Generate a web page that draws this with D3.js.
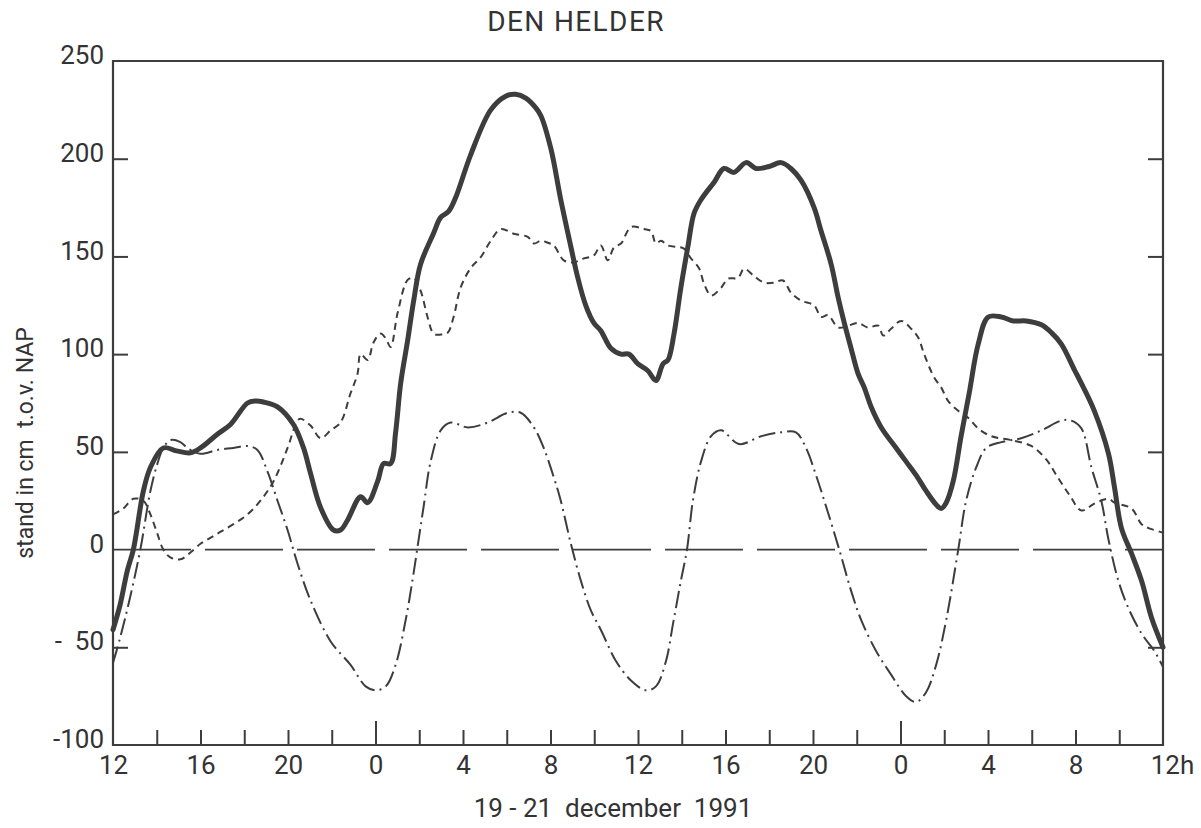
<!DOCTYPE html>
<html>
<head>
<meta charset="utf-8">
<script src="https://cdn.jsdelivr.net/npm/d3@7"></script>
<style>
  html, body { margin: 0; padding: 0; background: #fff; }
  svg { display: block; }
  text { font-family: Roboto, "DejaVu Sans", sans-serif; fill: #333; }
</style>
</head>
<body>
<svg id="chart" width="1201" height="828"></svg>
<script>
// hours since 12h, 19 december 1991
const observedHours = [0,0.33,0.65,0.93,1.39,1.71,2.30,2.90,3.54,4.00,4.77,5.37,6.15,6.51,6.88,7.52,8.25,8.71,9.03,9.49,10.08,10.40,10.72,11.32,11.64,12.10,12.37,12.69,12.92,13.15,13.47,13.74,14.06,14.66,14.98,15.34,15.66,16.35,17.27,17.95,18.41,18.87,19.33,19.56,20.02,20.47,20.93,21.25,21.61,21.98,22.30,22.76,23.22,23.58,24.00,24.45,24.82,25.14,25.37,25.64,25.96,26.28,26.56,26.88,27.48,27.93,28.39,28.94,29.40,29.99,30.54,30.99,31.45,32.05,32.37,32.83,33.15,33.43,33.74,34.06,34.34,34.66,35.12,35.80,36.26,36.72,37.17,37.63,37.86,38.09,38.41,38.77,39.14,39.55,40.01,40.61,41.16,41.75,42.44,42.90,43.36,43.95,44.27,44.86,45.51,45.78,46.10,46.56,47.02,47.48,48.0];
const observedValues = [-41,-28,-11,0,30,42,52,50.5,49.5,52,59,64,75,76,75.5,73,64,52,39,21.5,10,10,15,27,24,35,44,44,60,85,107,127,146,162,170,173,180,202,225,232,233,231,226,222,205,179,155,139,125,116,112,103,100,100,95,91.5,86.5,95,97,110,134,155,172,179,188,195,193,198,195,196,198,195,189,175,163,146,129,116,103,90,83,73,62.5,52,45,38,30,23,21,24,35,58,80,105,119,119,117,117,115,111,105,92,85,71,49,32,11,-2,-16,-35,-50];

const astroHours = [0,0.33,0.79,1.25,1.71,2.03,2.30,2.62,3.08,3.40,4.00,4.77,5.51,6.15,6.60,7.06,7.52,7.98,8.43,9.03,9.95,10.86,11.55,12.00,12.47,12.92,13.38,13.70,13.97,14.20,14.52,14.98,15.44,16.22,17.13,18.05,18.64,19.24,19.69,20.15,20.47,20.93,21.39,21.84,22.30,22.99,23.68,24.36,24.82,25.28,25.60,25.96,26.24,26.51,26.88,27.34,27.80,28.62,29.63,30.54,31.22,31.68,32.14,32.60,33.20,33.74,34.20,34.89,35.57,36.26,36.72,37.17,37.63,38.09,38.64,39.00,39.46,39.92,40.61,41.52,42.44,43.36,43.81,44.27,44.73,45.18,45.51,45.96,46.42,47.02,47.61,48.0];
const astroValues = [-58,-45,-24,0,30,44,52,56,55,52,49,51,52,53,51,40,25,10,-7,-26,-47,-59,-70,-72,-70,-59,-36,-15,5,22,45,61,65,62.5,65,70,70,62.5,52,37,25,3,-16,-31,-41,-57,-67,-72,-70,-57,-38,-16,0,25,45,58,61,54,58,60,60,52,38,22,0,-21,-36,-52,-64,-75,-78,-73,-59,-36,0,25,42,52,55,57,61,66,66,62,42,25,5,-16,-30,-43,-52,-60];

const surgeHours = [0,0.47,0.93,1.39,1.71,2.03,2.30,2.62,3.08,3.54,4.00,4.45,4.90,5.51,6.15,6.74,7.34,7.98,8.43,8.57,9.03,9.49,9.95,10.40,10.86,11.18,11.32,11.64,11.91,12.23,12.47,12.69,13.01,13.47,13.74,14.06,14.38,14.66,14.98,15.30,15.57,15.89,16.35,16.81,17.27,17.72,18.32,18.96,19.24,19.56,19.88,20.15,20.61,21.07,21.53,21.98,22.30,22.62,22.90,23.22,23.68,24.27,24.59,24.82,25.05,25.37,26.10,26.42,26.79,27.02,27.34,27.80,28.11,28.57,28.85,29.30,29.76,30.22,30.63,30.99,31.45,32.05,32.37,32.69,33.15,33.61,34.06,34.52,34.98,35.21,35.57,36.03,36.49,36.81,37.08,37.54,37.86,38.18,38.64,39.09,39.55,40.15,41.07,41.98,42.67,43.13,43.72,44.27,44.86,45.51,45.78,46.56,47.02,47.34,48.0];
const surgeValues = [18,21,26,25,18,8,0,-4,-5,-1.5,3,6,9,13,18,25,35,52,66,67,63.5,57,61,65,80,90,100,97,106,110.5,108,103.6,121,138,139,132.5,119,110.5,110,111,119,134,144,149.6,158,164,161.6,160,156.6,158,157,155.6,148,147,149,150.5,155.6,148,154.6,156.6,165,164,163,156.6,158,155.6,154,149,144,136,130,134,138.6,139,143.7,140,136.6,136.6,137.7,131.5,127.4,125,119,120,113.6,114.6,116,113.6,114.6,109.5,113,117,113,108.5,100,88,83,76,71,67.5,62,58,56,53,46,38,28,20,23.5,26,24,21,13,11,8.7];

const yTickValues = [250,200,150,100,50,0,-50,-100];
const yTickLabels = ["250","200","150","100","50","0","-  50","-100"];
const xTickHours = [0,4,8,12,16,20,24,28,32,36,40,44,48];
const xTickLabels = ["12","16","20","0","4","8","12","16","20","0","4","8","12h"];

const title = "DEN HELDER";
const yTitle = "stand in cm  t.o.v. NAP";
const xTitle = "19 - 21  december  1991";

const ink = "#3d3d3d";
const svg = d3.select("#chart");
const L = 113, R = 1163, T = 61, B = 745;

const x = d3.scaleLinear().domain([0, 48]).range([L, R]);
const y = d3.scaleLinear().domain([-100, 250]).range([B, T]);

// frame
svg.append("path")
  .attr("d", `M${L},${T}H${R}V${B}H${L}Z`)
  .attr("fill", "none").attr("stroke", ink).attr("stroke-width", 2.2);

// zero line
svg.append("line")
  .attr("x1", x(0)).attr("x2", x(48)).attr("y1", y(0)).attr("y2", y(0))
  .attr("stroke", ink).attr("stroke-width", 1.8).attr("stroke-dasharray", "78,14");

// bottom ticks (inward)
const bottom = svg.append("g").attr("transform", `translate(0,${B})`)
  .call(d3.axisBottom(x).tickValues(d3.range(2, 48, 2)).tickSize(0).tickFormat(""));
bottom.select(".domain").remove();
bottom.selectAll(".tick line")
  .attr("y2", d => (d % 24 === 12) ? -24 : -15)
  .attr("stroke", ink).attr("stroke-width", 2);

// bottom labels
const xl = svg.append("g").attr("transform", `translate(0,${B})`)
  .call(d3.axisBottom(x).tickValues(xTickHours).tickSize(0).tickPadding(11)
    .tickFormat((d, i) => xTickLabels[i]));
xl.select(".domain").remove();
xl.selectAll("text").attr("font-size", 26).attr("fill", "#333")
  .attr("font-family", "Roboto, sans-serif")
  .attr("dx", (d, i) => i === xTickLabels.length - 1 ? 9 : 0);

// left ticks and labels
const yl = svg.append("g").attr("transform", `translate(${L},0)`)
  .call(d3.axisLeft(y).tickValues(yTickValues).tickSize(0).tickPadding(9)
    .tickFormat((d, i) => yTickLabels[i]));
yl.select(".domain").remove();
yl.selectAll("text").attr("font-size", 26).attr("fill", "#333")
  .attr("font-family", "Roboto, sans-serif").attr("dy", "0.1em")
  .style("white-space", "pre");
const innerY = [200,150,100,50,-50];
yl.selectAll(".tick").filter(d => innerY.includes(d)).append("line")
  .attr("x1", 0).attr("x2", 15).attr("stroke", ink).attr("stroke-width", 2);

// right ticks
const yr = svg.append("g").attr("transform", `translate(${R},0)`)
  .call(d3.axisRight(y).tickValues(innerY).tickSize(-15).tickFormat(""));
yr.select(".domain").remove();
yr.selectAll(".tick line").attr("stroke", ink).attr("stroke-width", 2);

const mk = (hs, vs) => hs.map((h, i) => [h, vs[i]]);
const gen = d3.line().x(d => x(d[0])).y(d => y(d[1])).curve(d3.curveCatmullRom.alpha(0.5));

svg.append("path").datum(mk(surgeHours, surgeValues)).attr("d", gen)
  .attr("fill", "none").attr("stroke", ink).attr("stroke-width", 2)
  .attr("stroke-dasharray", "7,5");
svg.append("path").datum(mk(astroHours, astroValues)).attr("d", gen)
  .attr("fill", "none").attr("stroke", ink).attr("stroke-width", 2)
  .attr("stroke-dasharray", "17,5,2,5");
svg.append("path").datum(mk(observedHours, observedValues)).attr("d", gen)
  .attr("fill", "none").attr("stroke", ink).attr("stroke-width", 5)
  .attr("stroke-linejoin", "round").attr("stroke-linecap", "round");

// titles
svg.append("text").attr("x", 576).attr("y", 31).attr("text-anchor", "middle")
  .attr("font-size", 28).attr("letter-spacing", 1.4).text(title);
svg.append("text").attr("transform", "translate(33,443) rotate(-90)")
  .attr("text-anchor", "middle").attr("font-size", 23)
  .style("white-space", "pre").text(yTitle);
svg.append("text").attr("x", 613).attr("y", 817).attr("text-anchor", "middle")
  .attr("font-size", 26).style("white-space", "pre").text(xTitle);
</script>
</body>
</html>
